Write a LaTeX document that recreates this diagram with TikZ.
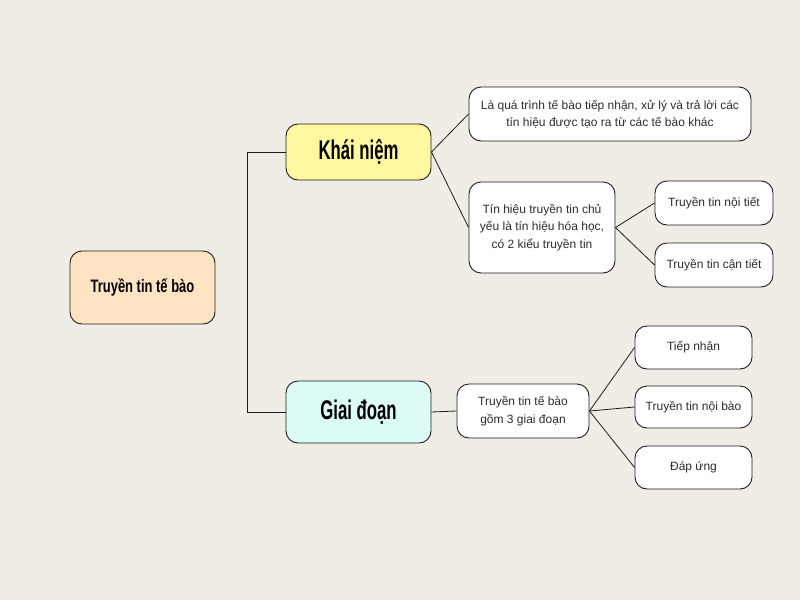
\documentclass[tikz,border=0pt]{standalone}
\usepackage{fontspec}
\setmainfont{Liberation Sans}
\definecolor{bgc}{RGB}{240,236,230}
\definecolor{peach}{RGB}{255,228,196}
\definecolor{yel}{RGB}{255,248,160}
\definecolor{cyanl}{RGB}{220,250,246}
\definecolor{edge}{RGB}{30,30,30}
\definecolor{txt}{RGB}{45,45,45}
\begin{document}
\begin{tikzpicture}[x=1pt,y=-1pt,
  box/.style={draw=edge,line width=0.9pt,rounded corners=12pt,fill=white,align=center,inner sep=0pt,text=txt},
  head/.style={box,fill=#1,text=black},
  conn/.style={draw=edge,line width=0.8pt}]
\useasboundingbox[fill=bgc] (0,0) rectangle (800,600);
% main nodes
\node[head=peach,minimum width=145pt,minimum height=73pt] (root) at (142.5,287.5)
  {\fontsize{18}{20}\selectfont\bfseries\scalebox{0.72}[1]{Truyền tin tế bào}};
\node[head=yel,minimum width=145pt,minimum height=56pt] (kn) at (358.5,152)
  {\fontsize{27}{30}\selectfont\bfseries\scalebox{0.62}[1]{Khái niệm}};
\node[head=cyanl,minimum width=145pt,minimum height=62pt] (gd) at (358.5,412)
  {\fontsize{27}{30}\selectfont\bfseries\scalebox{0.62}[1]{Giai đoạn}};
% level 2
\node[box,minimum width=282pt,minimum height=54pt,font=\fontsize{12}{17}\selectfont] (a) at (610,114)
  {Là quá trình tế bào tiếp nhận, xử lý và trả lời các\\tín hiệu được tạo ra từ các tế bào khác};
\node[box,minimum width=146pt,minimum height=91pt,font=\fontsize{12}{17.5}\selectfont] (b) at (542,227.5)
  {Tín hiệu truyền tin chủ\\yếu là tín hiệu hóa học,\\có 2 kiểu truyền tin};
\node[box,minimum width=118pt,minimum height=44pt,font=\fontsize{12}{15}\selectfont] (c) at (714,203)
  {Truyền tin nội tiết};
\node[box,minimum width=118pt,minimum height=44pt,font=\fontsize{12}{15}\selectfont] (d) at (714,265)
  {Truyền tin cận tiết};
\node[box,minimum width=132pt,minimum height=54pt,font=\fontsize{12}{18}\selectfont] (e) at (523,411)
  {Truyền tin tế bào\\gồm 3 giai đoạn};
\node[box,minimum width=117pt,minimum height=43pt,font=\fontsize{12}{15}\selectfont] (f) at (693.5,347.5)
  {Tiếp nhận};
\node[box,minimum width=117pt,minimum height=42pt,font=\fontsize{12}{15}\selectfont] (g) at (693.5,407)
  {Truyền tin nội bào};
\node[box,minimum width=117pt,minimum height=43pt,font=\fontsize{12}{15}\selectfont] (h) at (693.5,467.5)
  {Đáp ứng};
% connectors
\coordinate (j) at (247,152);
\draw[conn] (kn.west) -- (j) |- (gd.west);
\draw[conn] (kn.east) -- (a.west);
\draw[conn] (kn.east) -- (b.west);
\draw[conn] (b.east) -- (c.west);
\draw[conn] (b.east) -- (d.west);
\draw[conn] (gd.east) -- (e.west);
\draw[conn] (e.east) -- (f.west);
\draw[conn] (e.east) -- (g.west);
\draw[conn] (e.east) -- (h.west);
\end{tikzpicture}
\end{document}
